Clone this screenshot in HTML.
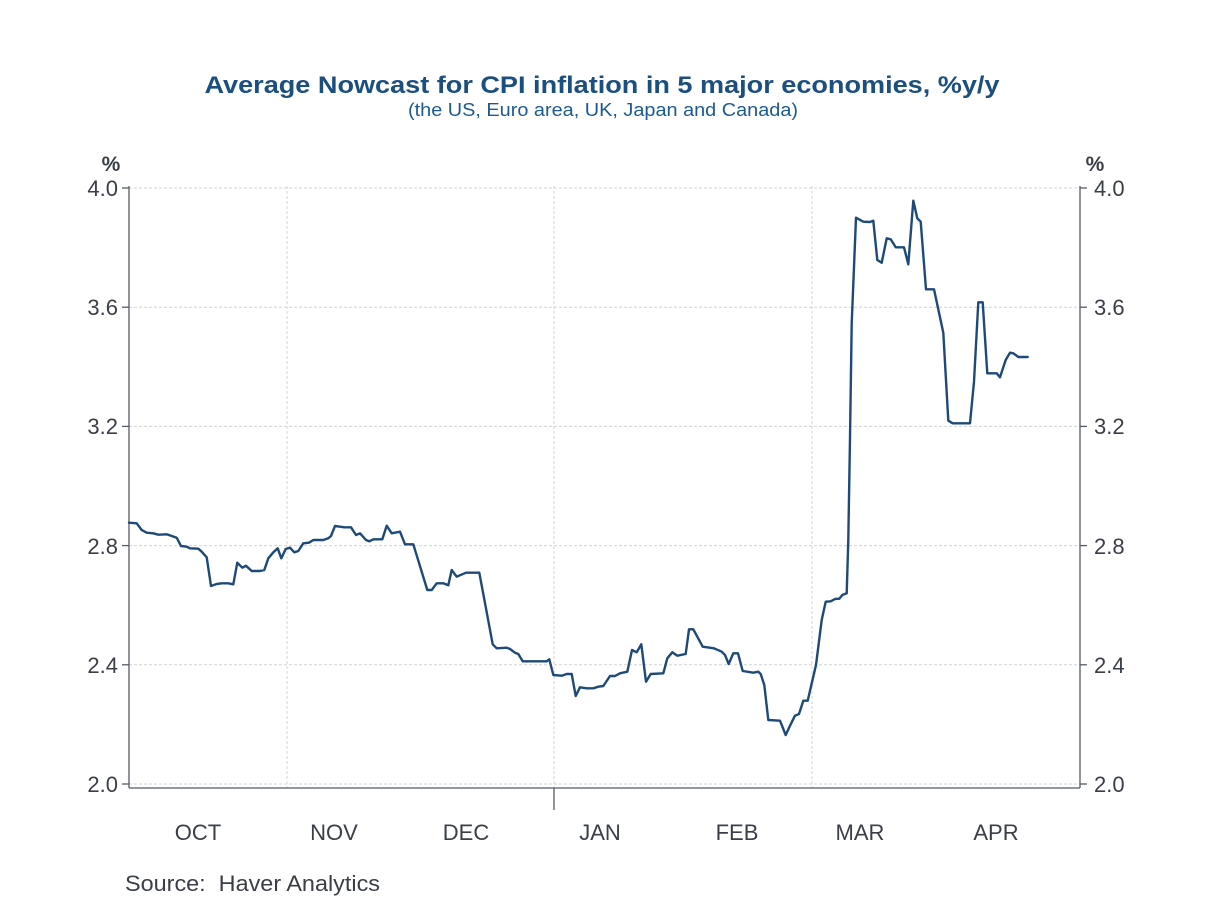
<!DOCTYPE html>
<html>
<head>
<meta charset="utf-8">
<style>
  html, body { margin:0; padding:0; background:#ffffff; }
  svg { display:block; }
  text { font-family: "Liberation Sans", "DejaVu Sans", sans-serif; }
</style>
</head>
<body>
<svg width="1208" height="906" viewBox="0 0 1208 906" xmlns="http://www.w3.org/2000/svg">
  <rect width="1208" height="906" fill="#ffffff"/>

  <!-- Title -->
  <text x="602" y="93" text-anchor="middle" font-size="24" font-weight="bold" fill="#1b4f80" textLength="795" lengthAdjust="spacingAndGlyphs">Average Nowcast for CPI inflation in 5 major economies, %y/y</text>
  <text x="603" y="116" text-anchor="middle" font-size="18" fill="#1b5a94" textLength="390" lengthAdjust="spacingAndGlyphs">(the US, Euro area, UK, Japan and Canada)</text>

  <!-- Gridlines -->
  <g stroke="#d4d4d4" stroke-width="1" stroke-dasharray="3,2" fill="none">
    <line x1="129" y1="188" x2="1080" y2="188"/>
    <line x1="129" y1="307.2" x2="1080" y2="307.2"/>
    <line x1="129" y1="426.4" x2="1080" y2="426.4"/>
    <line x1="129" y1="545.6" x2="1080" y2="545.6"/>
    <line x1="129" y1="664.8" x2="1080" y2="664.8"/>
    <line x1="129" y1="784" x2="1080" y2="784"/>
    <line x1="287" y1="186" x2="287" y2="788"/>
    <line x1="554" y1="186" x2="554" y2="788"/>
    <line x1="812" y1="186" x2="812" y2="788"/>
  </g>

  <!-- Axes -->
  <g stroke="#555c66" stroke-width="1.3" fill="none">
    <line x1="129" y1="186" x2="129" y2="788"/>
    <line x1="1080" y1="186" x2="1080" y2="788"/>
    <line x1="129" y1="788" x2="1080" y2="788"/>
    <line x1="554" y1="788" x2="554" y2="810"/>
    <line x1="122" y1="188" x2="129" y2="188"/>
    <line x1="122" y1="307.2" x2="129" y2="307.2"/>
    <line x1="122" y1="426.4" x2="129" y2="426.4"/>
    <line x1="122" y1="545.6" x2="129" y2="545.6"/>
    <line x1="122" y1="664.8" x2="129" y2="664.8"/>
    <line x1="122" y1="784" x2="129" y2="784"/>
    <line x1="1080" y1="188" x2="1087" y2="188"/>
    <line x1="1080" y1="307.2" x2="1087" y2="307.2"/>
    <line x1="1080" y1="426.4" x2="1087" y2="426.4"/>
    <line x1="1080" y1="545.6" x2="1087" y2="545.6"/>
    <line x1="1080" y1="664.8" x2="1087" y2="664.8"/>
    <line x1="1080" y1="784" x2="1087" y2="784"/>
  </g>

  <!-- Y labels -->
  <g font-size="22" fill="#3a3f47">
    <text x="111" y="171" text-anchor="middle" font-weight="bold" font-size="21">%</text>
    <text x="1095" y="171" text-anchor="middle" font-weight="bold" font-size="21">%</text>
    <g text-anchor="end">
      <text x="118" y="196">4.0</text>
      <text x="118" y="315">3.6</text>
      <text x="118" y="434">3.2</text>
      <text x="118" y="554">2.8</text>
      <text x="118" y="673">2.4</text>
      <text x="118" y="792">2.0</text>
    </g>
    <g text-anchor="start">
      <text x="1094" y="196">4.0</text>
      <text x="1094" y="315">3.6</text>
      <text x="1094" y="434">3.2</text>
      <text x="1094" y="554">2.8</text>
      <text x="1094" y="673">2.4</text>
      <text x="1094" y="792">2.0</text>
    </g>
  </g>

  <!-- X labels -->
  <g font-size="22" fill="#3a3f47" text-anchor="middle">
    <text x="198" y="840">OCT</text>
    <text x="334" y="840">NOV</text>
    <text x="466" y="840">DEC</text>
    <text x="600" y="840">JAN</text>
    <text x="737" y="840">FEB</text>
    <text x="860" y="840">MAR</text>
    <text x="996" y="840">APR</text>
  </g>

  <!-- Source -->
  <text x="125" y="891" font-size="22" fill="#3a3f47" xml:space="preserve" textLength="255" lengthAdjust="spacingAndGlyphs">Source:  Haver Analytics</text>

  <!-- Series -->
  <polyline fill="none" stroke="#1d4a78" stroke-width="2.4" stroke-linejoin="round" stroke-linecap="round" points="
129,522.7 136.7,523.3 141.7,530 146.7,532.7 153.3,533.3 158.3,534.7 166.7,534.3 171.7,536 176.7,537.7
181,546 186.7,546.7 190,548.3 198.3,548.7 201.7,551.7 206.7,557.3 211,586 216.7,584 221.7,583.3 228.3,583.3
233.3,584.3 237.3,562.7 242.3,567.7 246,565.7 251.7,571 260,571 264.3,570 268.3,558.3 273.3,552.3 277.7,548.3
281.3,558.3 285.7,549 290,547.7 294.3,552.3 298.3,551 303.3,543.3 309,542.7 313.3,540 323.3,540 328.3,538.3
331,536 335,526 340,526.7 344.3,527.3 351,527.3 356,535 360,533.3 366,540 369.3,541.3 373.3,539.3 382.3,539.3
386.7,525.7 391.7,533.3 400,531.7 405,544.3 413.3,544.3 427.3,590 431.7,590 436.7,583.3 443.3,583.3 448.3,585.3
451.7,570 456.7,576.7 466,572.7 479.3,572.7 492.7,644.3 496.7,648.3 506.7,647.7 510,649 515,652.7 518.3,654
522.7,661.3 546.7,661.3 549.3,659.3 553.3,675 561.7,675.7 566.7,674 571.7,674 575.7,696 580,687.3 586.7,688.3
593.3,688.3 598.3,686.7 603.3,686 610,676 615,676 620,673.3 627.3,671.7 632,650 636.7,652.3 641.3,644.3
646,681.7 650.7,674 663.3,673.3 667.3,658.3 672.3,652.3 677.3,655.7 685.7,654 689,629.3 693.3,629.3 702.7,646.7
714,648.3 721.7,651.7 725,655 728.7,664 733.3,653.3 738,653.3 742.7,671 753.3,672.7 758.3,671.7 760.7,674
764.3,685 768.3,720 780,720.7 785.7,735 790.7,724.3 795,715.7 799,714 803.3,700.7 807.7,700.7 816,665
821.7,620 825.7,601.7 830.7,601.3 835,599 839.3,598.7 842.3,595 846.7,593.3 848.3,540 850,438.3 851.7,323.3
856,217.7 863.3,221.7 870,222 873.3,220.7 877.3,260 881.7,262.7 886.7,238.3 890.7,239.3 895.7,247.3 904,247.3
908.3,264.3 913.3,200.7 917.3,218.3 920.7,221.7 926,289.3 934,289.3 943.3,332.7 948.3,420.7 952.7,423.3 970,423.3
974,381.7 978.3,302.3 982.7,302.3 987.3,373.3 996.7,373.3 1000,377.3 1005.7,360 1010,352.7 1013.3,353.3
1018.3,357 1027.7,357"/>
</svg>
</body>
</html>
